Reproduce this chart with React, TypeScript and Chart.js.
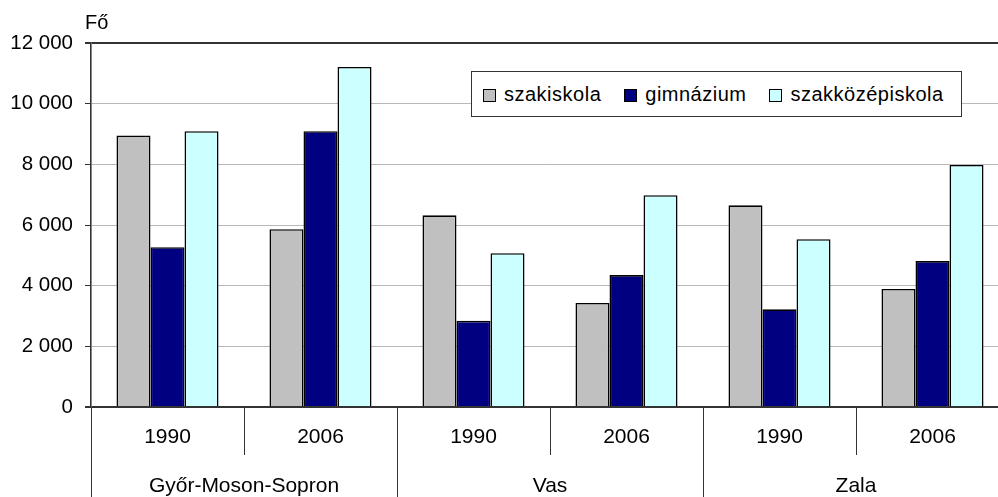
import React, { useEffect, useRef } from "react";
import { Chart, registerables } from "chart.js";

Chart.register(...registerables);

const years = ["1990", "2006", "1990", "2006", "1990", "2006"];
const regions = ["Győr-Moson-Sopron", "Vas", "Zala"];
const seriesNames = ["szakiskola", "gimnázium", "szakközépiskola"];
const seriesColors = ["#c0c0c0", "#000080", "#ccffff"];
const szakiskola = [8950, 5860, 6320, 3430, 6650, 3890];
const gimnazium = [5270, 9090, 2840, 4350, 3220, 4810];
const szakkozepiskola = [9090, 11210, 5070, 6980, 5530, 7980];
const yMin = 0;
const yMax = 12000;
const yStep = 2000;
const yUnit = "Fő";

const FONT = "'Liberation Sans', Arial, sans-serif";

const fmt = (v: number) => String(v).replace(/\B(?=(\d{3})+(?!\d))/g, " ");

const decorPlugin = {
  id: "decor",
  afterDraw(chart: any) {
    const ctx = chart.ctx;
    const x = chart.scales.x;
    const area = chart.chartArea;
    const p0 = x.getPixelForValue(0);
    const p1 = x.getPixelForValue(1);
    const w = p1 - p0;
    ctx.save();
    ctx.strokeStyle = "#333";
    ctx.lineWidth = 1;
    for (let i = 0; i <= years.length; i++) {
      const bx = Math.round(x.getPixelForValue(0) + (i - 0.5) * w) + 0.5;
      const long = i % 2 === 0;
      ctx.beginPath();
      ctx.moveTo(bx, area.bottom);
      ctx.lineTo(bx, long ? chart.height : area.bottom + 48);
      ctx.stroke();
    }
    ctx.fillStyle = "#000";
    ctx.font = `21px ${FONT}`;
    ctx.textAlign = "center";
    ctx.textBaseline = "alphabetic";
    regions.forEach((r, g) => {
      const cx = (x.getPixelForValue(2 * g) + x.getPixelForValue(2 * g + 1)) / 2;
      ctx.fillText(r, cx, 492);
    });
    ctx.font = `20px ${FONT}`;
    ctx.textAlign = "left";
    ctx.fillText(yUnit, 85, 29);
    ctx.restore();
  },
};

export default function App() {
  const ref = useRef<HTMLCanvasElement | null>(null);

  useEffect(() => {
    if (!ref.current) return;
    const chart = new Chart(ref.current, {
      type: "bar",
      data: {
        labels: years,
        datasets: [szakiskola, gimnazium, szakkozepiskola].map((d, i) => ({
          label: seriesNames[i],
          data: d,
          backgroundColor: seriesColors[i],
          borderColor: "#000",
          borderWidth: 1.6,
          categoryPercentage: 0.667,
          barPercentage: 1,
        })),
      },
      options: {
        responsive: false,
        animation: false,
        layout: { padding: { top: 43, right: 1, bottom: 0, left: 0 } },
        plugins: {
          legend: { display: false },
          tooltip: { enabled: false },
          title: { display: false },
        },
        scales: {
          x: {
            grid: { display: false },
            border: { display: false },
            ticks: {
              color: "#000",
              font: { family: FONT, size: 21 },
              padding: 10,
              maxRotation: 0,
              autoSkip: false,
            },
            afterFit: (s: any) => {
              s.height = 90;
            },
          },
          y: {
            min: yMin,
            max: yMax,
            ticks: {
              stepSize: yStep,
              color: "#000",
              font: { family: FONT, size: 20.5 },
              padding: 12,
              callback: (v: any) => fmt(Number(v)),
            },
            grid: {
              color: (c: any) =>
                c.tick && (c.tick.value === yMax || c.tick.value === yMin) ? "#333" : "#b8b8b8",
              lineWidth: (c: any) =>
                c.tick && (c.tick.value === yMax || c.tick.value === yMin) ? 2 : 1,
              tickColor: "#333",
              tickLength: 6,
            },
            border: { color: "#333", width: 1.6 },
            afterFit: (s: any) => {
              s.width = 91;
            },
          },
        },
      },
      plugins: [decorPlugin],
    });
    return () => chart.destroy();
  }, []);

  return (
    <div
      style={{
        position: "fixed",
        left: 0,
        top: 0,
        width: 998,
        height: 497,
        overflow: "hidden",
        background: "#fff",
      }}
    >
      <canvas ref={ref} width={1010} height={497} style={{ display: "block" }} />
      <div
        style={{
          position: "absolute",
          left: 471,
          top: 71,
          width: 478,
          height: 44,
          border: "1px solid #333",
          background: "#fff",
          display: "flex",
          alignItems: "center",
          paddingLeft: 11,
          boxSizing: "content-box",
          fontFamily: FONT,
          fontSize: 20,
          color: "#000",
          whiteSpace: "nowrap",
        }}
      >
        {seriesNames.map((n, i) => (
          <div key={n} style={{ display: "flex", alignItems: "center", marginRight: 23 }}>
            <span
              style={{
                display: "inline-block",
                width: 11,
                height: 11,
                border: "1px solid #000",
                background: seriesColors[i],
                marginRight: 8,
                marginTop: 2,
              }}
            />
            <span style={{ letterSpacing: 0.5 }}>{n}</span>
          </div>
        ))}
      </div>
    </div>
  );
}
